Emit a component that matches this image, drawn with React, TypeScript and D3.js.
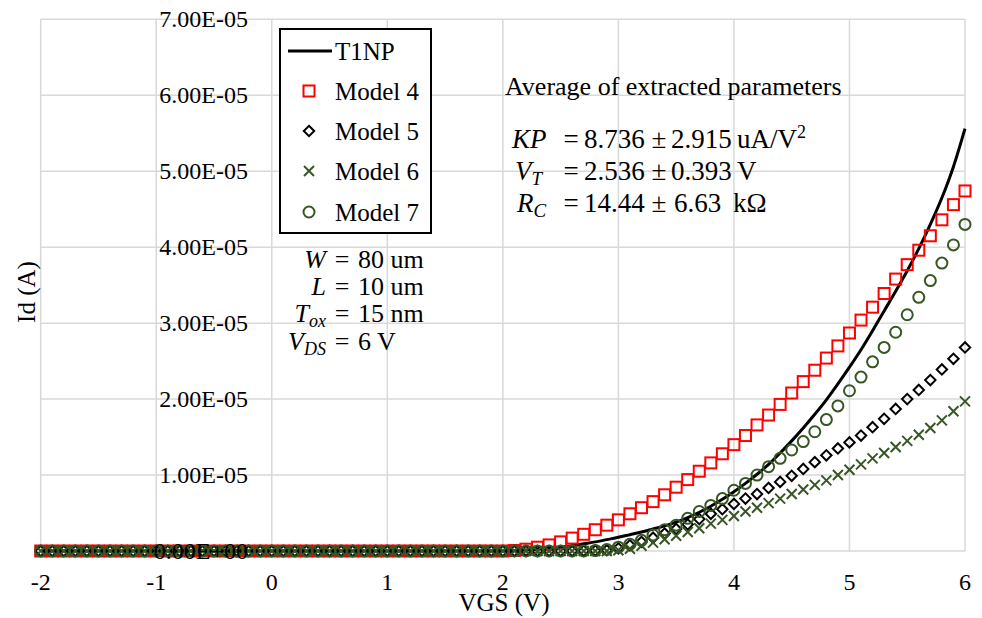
import React from "react";
import * as d3 from "d3";

// gate sweep, V
const VGS = [
  -2.0, -1.9, -1.8, -1.7, -1.6, -1.5, -1.4, -1.3, -1.2, -1.1,
  -1.0, -0.9, -0.8, -0.7, -0.6, -0.5, -0.4, -0.3, -0.2, -0.1,
  0.0, 0.1, 0.2, 0.3, 0.4, 0.5, 0.6, 0.7, 0.8, 0.9,
  1.0, 1.1, 1.2, 1.3, 1.4, 1.5, 1.6, 1.7, 1.8, 1.9,
  2.0, 2.1, 2.2, 2.3, 2.4, 2.5, 2.6, 2.7, 2.8, 2.9,
  3.0, 3.1, 3.2, 3.3, 3.4, 3.5, 3.6, 3.7, 3.8, 3.9,
  4.0, 4.1, 4.2, 4.3, 4.4, 4.5, 4.6, 4.7, 4.8, 4.9,
  5.0, 5.1, 5.2, 5.3, 5.4, 5.5, 5.6, 5.7, 5.8, 5.9,
  6.0,
];

// drain current, uA
const T1NP = [
  0, 0, 0, 0, 0, 0, 0, 0, 0, 0,
  0, 0, 0, 0, 0, 0, 0, 0, 0, 0,
  0, 0, 0, 0, 0, 0, 0, 0, 0, 0,
  0, 0, 0, 0, 0, 0, 0, 0, 0, 0,
  0, 0.05, 0.12, 0.22, 0.35, 0.5, 0.7, 0.95, 1.2, 1.5,
  1.8, 2.15, 2.5, 2.9, 3.3, 3.8, 4.4, 5.1, 5.9, 6.8,
  7.8, 8.9, 10.1, 11.4, 12.9, 14.5, 16.2, 18.0, 19.9, 22.0,
  24.2, 26.5, 29.0, 31.6, 34.2, 36.9, 39.8, 43.0, 46.5, 50.6,
  55.6,
];

const MODEL4 = [
  0, 0, 0, 0, 0, 0, 0, 0, 0, 0,
  0, 0, 0, 0, 0, 0, 0, 0, 0, 0,
  0, 0, 0, 0, 0, 0, 0, 0, 0, 0,
  0, 0, 0, 0, 0, 0, 0, 0, 0, 0,
  0, 0.07, 0.24, 0.5, 0.8, 1.2, 1.7, 2.2, 2.8, 3.4,
  4.1, 4.9, 5.7, 6.5, 7.4, 8.4, 9.4, 10.5, 11.6, 12.8,
  14.0, 15.2, 16.6, 17.9, 19.3, 20.8, 22.3, 23.8, 25.4, 27.0,
  28.7, 30.4, 32.1, 33.9, 35.8, 37.7, 39.6, 41.5, 43.6, 45.6,
  47.4,
];

const MODEL5 = [
  0, 0, 0, 0, 0, 0, 0, 0, 0, 0,
  0, 0, 0, 0, 0, 0, 0, 0, 0, 0,
  0, 0, 0, 0, 0, 0, 0, 0, 0, 0,
  0, 0, 0, 0, 0, 0, 0, 0, 0, 0,
  0, 0, 0, 0, 0, 0, 0, 0.02, 0.05, 0.1,
  0.35, 0.75, 1.2, 1.75, 2.3, 2.9, 3.5, 4.2, 4.9, 5.5,
  6.2, 6.9, 7.5, 8.3, 9.1, 9.9, 10.8, 11.7, 12.6, 13.5,
  14.3, 15.2, 16.3, 17.4, 18.7, 20.0, 21.2, 22.5, 23.9, 25.3,
  26.8,
];

const MODEL6 = [
  0, 0, 0, 0, 0, 0, 0, 0, 0, 0,
  0, 0, 0, 0, 0, 0, 0, 0, 0, 0,
  0, 0, 0, 0, 0, 0, 0, 0, 0, 0,
  0, 0, 0, 0, 0, 0, 0, 0, 0, 0,
  0, 0, 0, 0, 0, 0, 0, 0, 0, 0,
  0.1, 0.3, 0.7, 1.1, 1.55, 2.0, 2.5, 3.0, 3.6, 4.1,
  4.6, 5.2, 5.7, 6.3, 6.9, 7.5, 8.1, 8.7, 9.3, 10.0,
  10.7, 11.4, 12.2, 12.9, 13.7, 14.5, 15.3, 16.2, 17.2, 18.4,
  19.7,
];

const MODEL7 = [
  0, 0, 0, 0, 0, 0, 0, 0, 0, 0,
  0, 0, 0, 0, 0, 0, 0, 0, 0, 0,
  0, 0, 0, 0, 0, 0, 0, 0, 0, 0,
  0, 0, 0, 0, 0, 0, 0, 0, 0, 0,
  0, 0, 0, 0, 0, 0, 0, 0, 0.05, 0.2,
  0.5, 0.9, 1.4, 2.1, 2.8, 3.4, 4.3, 5.2, 6.0, 6.9,
  8.0, 8.9, 10.0, 11.1, 12.2, 13.3, 14.4, 15.7, 17.3, 19.1,
  21.1, 22.9, 24.9, 26.8, 28.8, 31.1, 33.4, 35.6, 37.9, 40.3,
  43.0,
];

const X_TICKS = [-2, -1, 0, 1, 2, 3, 4, 5, 6];
const Y_TICKS = [0, 10, 20, 30, 40, 50, 60, 70];
const Y_TICK_LABELS = [
  "0.00E+00", "1.00E-05", "2.00E-05", "3.00E-05",
  "4.00E-05", "5.00E-05", "6.00E-05", "7.00E-05",
];

const RED = "#ff0000";
const GREEN = "#375623";
const GRID = "#d9d9d9";
const SERIF = "'Liberation Serif', 'Times New Roman', serif";

const x = d3.scaleLinear().domain([-2, 6]).range([40.7, 965]);
const y = d3.scaleLinear().domain([0, 70]).range([551, 19.3]);

const Square = ({ cx, cy }: { cx: number; cy: number }) => (
  <rect x={cx - 5.5} y={cy - 5.5} width={11} height={11} fill="none" stroke={RED} strokeWidth={2} />
);
const Diamond = ({ cx, cy }: { cx: number; cy: number }) => (
  <path d={`M${cx},${cy - 5.2}L${cx + 5.2},${cy}L${cx},${cy + 5.2}L${cx - 5.2},${cy}Z`} fill="none" stroke="#000" strokeWidth={2} />
);
const Cross = ({ cx, cy }: { cx: number; cy: number }) => (
  <path d={`M${cx - 5},${cy - 5}L${cx + 5},${cy + 5}M${cx - 5},${cy + 5}L${cx + 5},${cy - 5}`} stroke={GREEN} strokeWidth={2} />
);
const Circle = ({ cx, cy }: { cx: number; cy: number }) => (
  <circle cx={cx} cy={cy} r={5.5} fill="none" stroke={GREEN} strokeWidth={2} />
);

export default function App() {
  const line = d3
    .line<number>()
    .x((_, i) => x(VGS[i]))
    .y((d) => y(d))
    .curve(d3.curveMonotoneX);

  const legend = [
    { label: "T1NP", mark: null },
    { label: "Model 4", mark: Square },
    { label: "Model 5", mark: Diamond },
    { label: "Model 6", mark: Cross },
    { label: "Model 7", mark: Circle },
  ];

  const math = { fontFamily: SERIF, fontSize: 27, fill: "#000" };
  const it = { fontStyle: "italic" as const };

  return (
    <svg width={982} height={618} style={{ position: "absolute", left: 0, top: 0, background: "#fff" }}>
      <rect width={982} height={618} fill="#fff" />
      {/* grid */}
      {X_TICKS.map((t) => (
        <line key={"gx" + t} x1={x(t)} x2={x(t)} y1={y(70)} y2={y(0)} stroke={GRID} strokeWidth={1.5} />
      ))}
      {Y_TICKS.map((t) => (
        <line key={"gy" + t} x1={x(-2)} x2={x(6)} y1={y(t)} y2={y(t)} stroke={GRID} strokeWidth={1.5} />
      ))}

      {/* y tick labels (all but zero, which sits above the data) */}
      {Y_TICKS.slice(1).map((t, i) => (
        <text key={"yl" + t} x={248} y={y(t) + 8} textAnchor="end" fontFamily={SERIF} fontSize={24}>
          {Y_TICK_LABELS[i + 1]}
        </text>
      ))}

      {/* series */}
      <path d={line(T1NP) || ""} fill="none" stroke="#000" strokeWidth={3} />
      {MODEL4.map((d, i) => <Square key={"m4" + i} cx={x(VGS[i])} cy={y(d)} />)}
      {MODEL5.map((d, i) => <Diamond key={"m5" + i} cx={x(VGS[i])} cy={y(d)} />)}
      {MODEL6.map((d, i) => <Cross key={"m6" + i} cx={x(VGS[i])} cy={y(d)} />)}
      {MODEL7.map((d, i) => <Circle key={"m7" + i} cx={x(VGS[i])} cy={y(d)} />)}

      <text x={248} y={y(0) + 8} textAnchor="end" fontFamily={SERIF} fontSize={24}>
        {Y_TICK_LABELS[0]}
      </text>

      {/* x tick labels */}
      {X_TICKS.map((t) => (
        <text key={"xl" + t} x={x(t)} y={590} textAnchor="middle" fontFamily={SERIF} fontSize={24}>
          {t < 0 ? `-${Math.abs(t)}` : t}
        </text>
      ))}

      {/* axis titles */}
      <text x={504} y={611} textAnchor="middle" fontFamily={SERIF} fontSize={25}>VGS (V)</text>
      <text transform="translate(35,292) rotate(-90)" textAnchor="middle" fontFamily={SERIF} fontSize={25}>Id (A)</text>

      {/* legend */}
      <rect x={280} y={29} width={151} height={204} fill="#fff" stroke="#000" strokeWidth={2} />
      {legend.map((e, i) => {
        const base = [60, 100, 140, 180, 221][i];
        const M = e.mark;
        return (
          <g key={e.label}>
            {M ? <M cx={309} cy={base - 9} /> : <line x1={288} x2={332} y1={base - 9} y2={base - 9} stroke="#000" strokeWidth={3} />}
            <text x={335} y={base} fontFamily={SERIF} fontSize={25}>{e.label}</text>
          </g>
        );
      })}

      {/* extracted parameters */}
      <text x={505} y={95} fontFamily={SERIF} fontSize={26}>Average of extracted parameters</text>
      <g {...math}>
        <text x={512} y={148} {...it}>KP</text>
        <text x={571} y={148} textAnchor="middle">=</text>
        <text x={584} y={148}>8.736</text>
        <text x={659} y={148} textAnchor="middle">±</text>
        <text x={671} y={148}>2.915</text>
        <text x={737} y={148}>uA/V<tspan dy={-10} fontSize={18}>2</tspan></text>

        <text x={515} y={180} {...it}>V<tspan dy={5} fontSize={19}>T</tspan></text>
        <text x={571} y={180} textAnchor="middle">=</text>
        <text x={584} y={180}>2.536</text>
        <text x={659} y={180} textAnchor="middle">±</text>
        <text x={671} y={180}>0.393</text>
        <text x={737} y={180}>V</text>

        <text x={517} y={212} {...it}>R<tspan dy={5} fontSize={19}>C</tspan></text>
        <text x={571} y={212} textAnchor="middle">=</text>
        <text x={584} y={212}>14.44</text>
        <text x={659} y={212} textAnchor="middle">±</text>
        <text x={674} y={212}>6.63</text>
        <text x={733} y={212}>kΩ</text>
      </g>

      {/* device conditions */}
      <g fontFamily={SERIF} fontSize={26} fill="#000">
        <text x={326} y={268} textAnchor="end" {...it}>W</text>
        <text x={326} y={295} textAnchor="end" {...it}>L</text>
        <text x={326} y={322} textAnchor="end" {...it}>T<tspan dy={5} fontSize={18}>ox</tspan></text>
        <text x={326} y={350} textAnchor="end" {...it}>V<tspan dy={5} fontSize={18}>DS</tspan></text>
        {[268, 295, 322, 350].map((b) => (
          <text key={"eq" + b} x={342} y={b} textAnchor="middle">=</text>
        ))}
        <text x={358} y={268}>80 um</text>
        <text x={358} y={295}>10 um</text>
        <text x={358} y={322}>15 nm</text>
        <text x={358} y={350}>6 V</text>
      </g>
    </svg>
  );
}
